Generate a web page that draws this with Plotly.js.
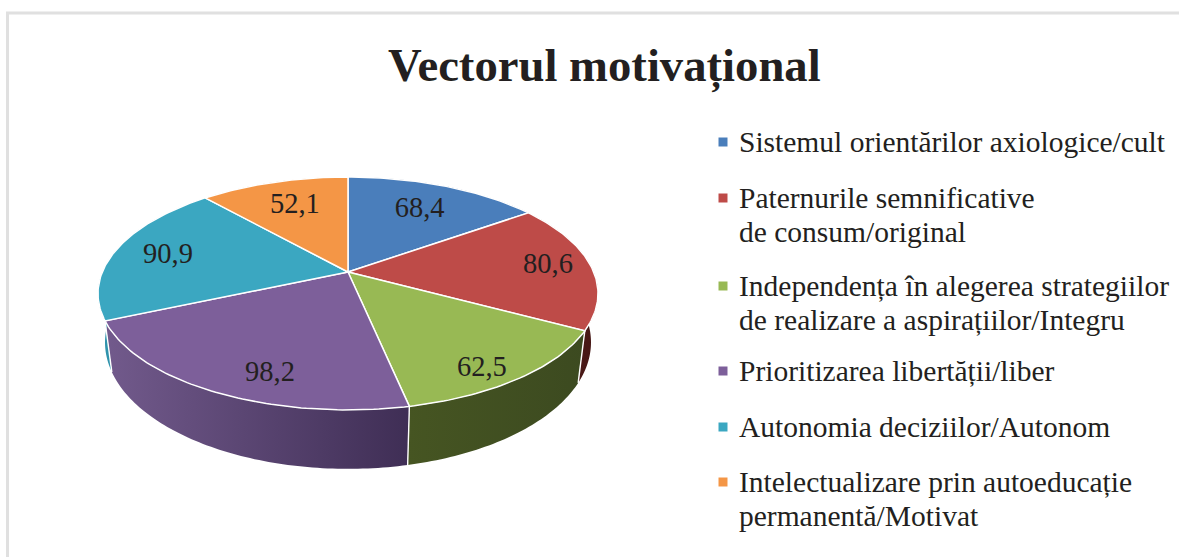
<!DOCTYPE html>
<html><head><meta charset="utf-8">
<script src="https://cdn.plot.ly/plotly-3.0.1.min.js"></script>
<style>html,body{margin:0;padding:0;background:#fff;overflow:hidden}</style>
</head><body><div id="chart" style="width:1179px;height:557px"></div>
<script>
const chartTitle = 'Vectorul motivațional';
const categories = [
  'Sistemul orientărilor axiologice/cult',
  'Paternurile semnificative<br>de consum/original',
  'Independența în alegerea strategiilor<br>de realizare a aspirațiilor/Integru',
  'Prioritizarea libertății/liber',
  'Autonomia deciziilor/Autonom',
  'Intelectualizare prin autoeducație<br>permanentă/Motivat'
];
const values = [68.4, 80.6, 62.5, 98.2, 90.9, 52.1];
const valueLabels = ['68,4', '80,6', '62,5', '98,2', '90,9', '52,1'];
const topColors = ['#4a7ebb', '#be4b48', '#98b954', '#7d5f9a', '#3ba7c1', '#f49646'];
const wallLeft = ['#2c4a70', '#5a1e1c', '#465522', '#725a8c', '#2f93ac', '#b06a2c'];
const wallRight = ['#2c4a70', '#451715', '#3c4a20', '#3f2e55', '#2f93ac', '#b06a2c'];
// label placement on the disc: fraction of radius, angular shift from slice middle
const labelR = [0.713, 0.828, 0.869, 0.811, 0.773, 0.722];
const labelShift = [0, -1.4, 3.8, -7.6, 0, 1];
const labelDy = 2;
const legendMarkY = [142, 198, 286, 371, 427, 482];
const legendLineGap = 34.7;

// Perspective disc: top face and (narrower, lower) bottom face
const cx = 348, a = 245.7, k = 0.1845;
const topFace = {cy: 272, b: 112.5, sx: 1};
const bottomFace = {cy: 319, b: 122.2, sx: 0.972};
const total = values.reduce((s, v) => s + v, 0);
const rad = d => d * Math.PI / 180;
function proj(thetaDeg, r, f) {
  const X = r * Math.sin(rad(thetaDeg)), Y = -r * Math.cos(rad(thetaDeg)), w = 1 - k * Y;
  return [cx + f.sx * a * X / w, f.cy + f.b * Y / w];
}
let cum = 0;
const slices = values.map(v => { const s = {start: cum / total * 360, end: (cum + v) / total * 360}; cum += v; return s; });
function arc(s, f) {
  const n = Math.max(8, Math.ceil(s.end - s.start)), pts = [];
  for (let i = 0; i <= n; i++) pts.push(proj(s.start + (s.end - s.start) * i / n, 1, f));
  return pts;
}
const traces = [];
// walls
slices.forEach((s, i) => {
  const t = arc(s, topFace), bt = arc(s, bottomFace).reverse(), p = t.concat(bt);
  p.push(t[0]);
  traces.push({type: 'scatter', mode: 'none', showlegend: false, hoverinfo: 'skip',
    x: p.map(q => q[0]), y: p.map(q => q[1]), fill: 'toself',
    fillgradient: {type: 'horizontal', colorscale: [[0, wallLeft[i]], [1, wallRight[i]]]}});
});
// white wall separators (front-facing only)
slices.forEach(s => {
  const Y = -Math.cos(rad(s.end));
  if (Y > 0.1) {
    const p = proj(s.end, 1, topFace), q = proj(s.end, 1, bottomFace);
    traces.push({type: 'scatter', mode: 'lines', showlegend: false, hoverinfo: 'skip',
      x: [p[0], q[0]], y: [p[1], q[1]], line: {color: '#ffffff', width: 1.4}});
  }
});
// top faces
slices.forEach((s, i) => {
  const t = arc(s, topFace), c = [cx, topFace.cy];
  const p = [c].concat(t, [c]);
  traces.push({type: 'scatter', mode: 'lines', showlegend: false, name: categories[i],
    x: p.map(q => q[0]), y: p.map(q => q[1]), fill: 'toself', fillcolor: topColors[i],
    line: {color: '#ffffff', width: 1.5}, hoverinfo: 'name'});
});
// value labels
const lab = slices.map((s, i) => proj((s.start + s.end) / 2 + labelShift[i], labelR[i], topFace));
traces.push({type: 'scatter', mode: 'text', showlegend: false, hoverinfo: 'skip',
  x: lab.map(q => q[0]), y: lab.map(q => q[1] + labelDy), text: valueLabels, textposition: 'middle center',
  textfont: {family: '"Liberation Serif", serif', size: 28.5, color: '#231f20'}});
// legend markers
traces.push({type: 'scatter', mode: 'markers', showlegend: false, hoverinfo: 'skip',
  x: categories.map(() => 723), y: legendMarkY,
  marker: {symbol: 'square', size: 9, color: topColors, line: {width: 0}}});

const annotations = [];
categories.forEach((c, i) => c.split('<br>').forEach((line, j) => annotations.push({
  text: line, x: 737.5, y: legendMarkY[i] - 0.5 + j * legendLineGap, xref: 'x', yref: 'y',
  xanchor: 'left', yanchor: 'middle', align: 'left', showarrow: false, borderpad: 0,
  font: {family: '"Liberation Serif", serif', size: 29.5, color: '#231f20'}
})));
annotations.push({text: '<b>' + chartTitle + '</b>', x: 604, y: 66, xref: 'x', yref: 'y',
  xanchor: 'center', yanchor: 'middle', showarrow: false,
  font: {family: '"Liberation Serif", serif', size: 46.7, color: '#231f20'}});

const frame = {color: '#e0e0e0', width: 3};
const layout = {
  width: 1179, height: 557, margin: {l: 0, r: 0, t: 0, b: 0},
  paper_bgcolor: '#ffffff', plot_bgcolor: '#ffffff', showlegend: false,
  xaxis: {range: [0, 1179], visible: false, fixedrange: true},
  yaxis: {range: [557, 0], visible: false, fixedrange: true},
  annotations,
  shapes: [
    {type: 'line', xref: 'x', yref: 'y', x0: 6, y0: 13, x1: 1179, y1: 13, line: frame, layer: 'below'},
    {type: 'line', xref: 'x', yref: 'y', x0: 7.5, y0: 12, x1: 7.5, y1: 557, line: frame, layer: 'below'}
  ]
};
Plotly.newPlot('chart', traces, layout, {displayModeBar: false, staticPlot: true});
</script></body></html>
